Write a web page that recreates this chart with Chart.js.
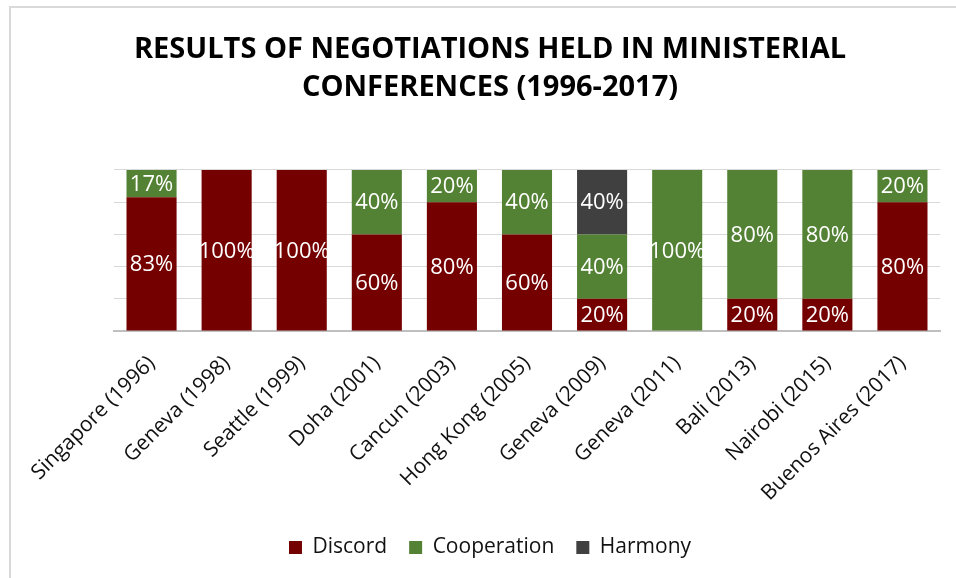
<!DOCTYPE html>
<html>
<head>
<meta charset="utf-8">
<script src="https://cdn.jsdelivr.net/npm/chart.js@4/dist/chart.umd.min.js"></script>
<style>
  html, body { margin: 0; padding: 0; background: #fff; overflow: hidden; }
  #wrap { position: relative; width: 956px; height: 578px; }
  #frame { position: absolute; left: 9px; top: 6px; width: 980px; height: 600px;
           border-left: 2px solid #d9d9d9; border-top: 2px solid #d9d9d9; box-sizing: border-box; }
  canvas { position: absolute; left: 0; top: 0; }
</style>
</head>
<body>
<div id="wrap">
  <div id="frame"></div>
  <canvas id="chart" width="956" height="578"></canvas>
</div>
<script>
// Ministerial conferences and share of negotiation outcomes (%)
const conferences = [
  'Singapore (1996)', 'Geneva (1998)', 'Seattle (1999)', 'Doha (2001)',
  'Cancun (2003)', 'Hong Kong (2005)', 'Geneva (2009)', 'Geneva (2011)',
  'Bali (2013)', 'Nairobi (2015)', 'Buenos Aires (2017)'
];
const discord     = [83, 100, 100, 60, 80, 60, 20, 0, 20, 20, 80];
const cooperation = [17, 0, 0, 40, 20, 40, 40, 100, 80, 80, 20];
const harmony     = [0, 0, 0, 0, 0, 0, 40, 0, 0, 0, 0];
const titleLines  = ['RESULTS OF NEGOTIATIONS HELD IN MINISTERIAL', 'CONFERENCES (1996-2017)'];

const FONT = "'Open Sans', 'Noto Sans', sans-serif";

// Writes each segment's percentage in the middle of its bar piece
const segmentLabels = {
  id: 'segmentLabels',
  afterDatasetsDraw(chart) {
    const ctx = chart.ctx;
    ctx.save();
    ctx.font = '22px ' + FONT;
    ctx.fillStyle = '#ffffff';
    ctx.textAlign = 'center';
    ctx.textBaseline = 'middle';
    chart.data.datasets.forEach((ds, di) => {
      const meta = chart.getDatasetMeta(di);
      if (meta.hidden) return;
      meta.data.forEach((bar, i) => {
        const v = ds.data[i];
        if (!v) return;
        const { x, y, base } = bar.getProps(['x', 'y', 'base'], true);
        ctx.fillText(v + '%', x, (y + base) / 2 + 1);
      });
    });
    ctx.restore();
  }
};

new Chart(document.getElementById('chart'), {
  type: 'bar',
  data: {
    labels: conferences,
    datasets: [
      { label: 'Discord', data: discord, backgroundColor: '#750000' },
      { label: 'Cooperation', data: cooperation, backgroundColor: '#548235' },
      { label: 'Harmony', data: harmony, backgroundColor: '#404040' }
    ]
  },
  options: {
    responsive: false,
    animation: false,
    devicePixelRatio: 1,
    datasets: { bar: { categoryPercentage: 1, barPercentage: 0.667, borderWidth: 0 } },
    layout: { padding: { left: 40, right: 16, top: 0, bottom: 10 } },
    scales: {
      x: {
        stacked: true,
        grid: { display: false, drawTicks: false },
        border: { display: true, color: '#bfbfbf', width: 2 },
        ticks: {
          color: '#111',
          font: { family: FONT, size: 21 },
          minRotation: 45, maxRotation: 45,
          padding: 20, autoSkip: false
        },
        afterFit(scale) { scale.height = 184; }
      },
      y: {
        stacked: true,
        min: 0, max: 100,
        ticks: { display: false, stepSize: 20 },
        grid: { color: '#d9d9d9', lineWidth: 1, drawTicks: false },
        border: { display: false },
        afterFit(scale) { scale.width = 74; }
      }
    },
    plugins: {
      title: {
        display: true,
        text: titleLines,
        color: '#000',
        font: { family: FONT, size: 29, weight: 'bold', lineHeight: 1.31 },
        padding: { top: 31, bottom: 63 }
      },
      legend: {
        position: 'bottom',
        labels: {
          color: '#111',
          font: { family: FONT, size: 21 },
          boxWidth: 13, boxHeight: 13,
          padding: 22
        }
      },
      tooltip: { enabled: false }
    }
  },
  plugins: [segmentLabels]
});
</script>
</body>
</html>
